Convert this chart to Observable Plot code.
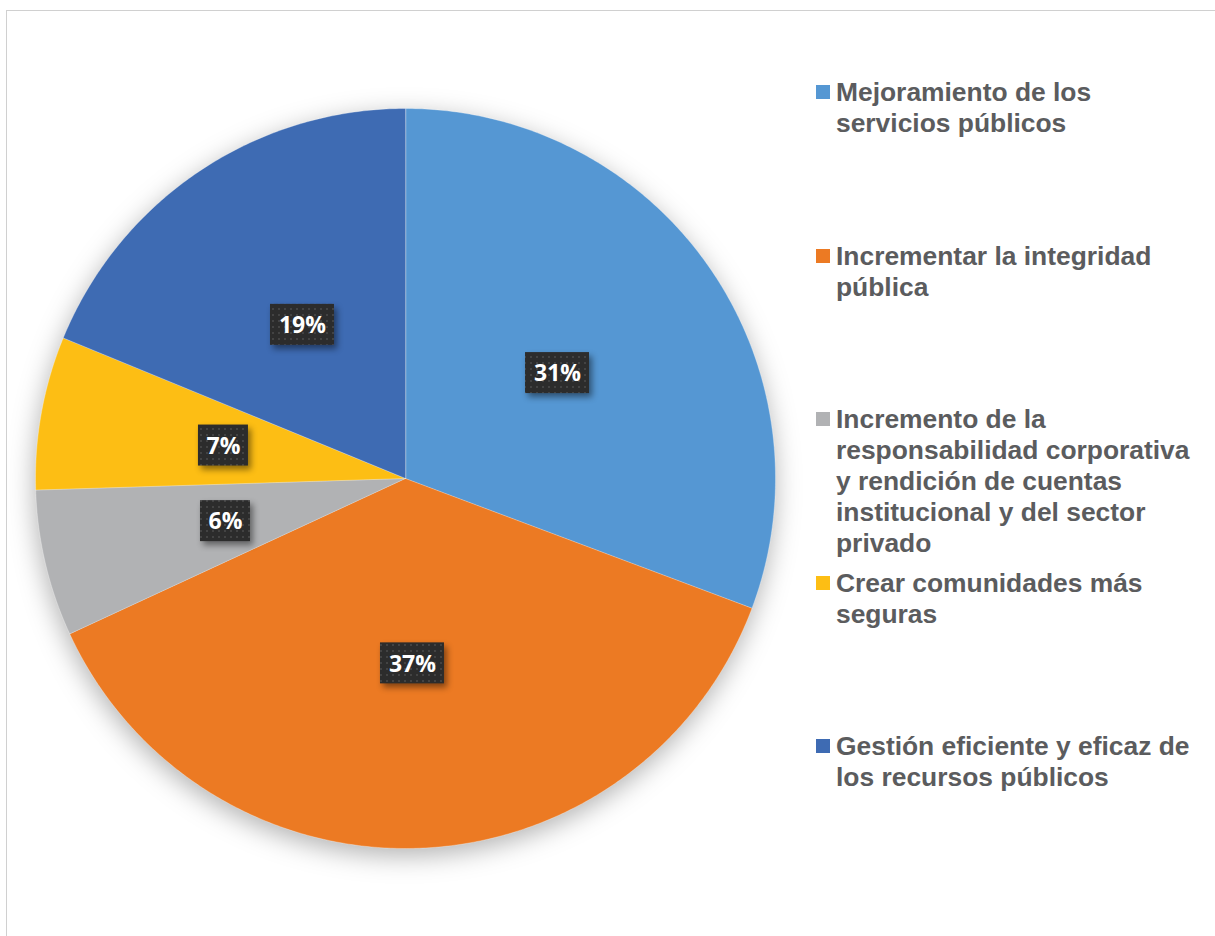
<!DOCTYPE html>
<html>
<head>
<meta charset="utf-8">
<script src="https://cdn.jsdelivr.net/npm/d3@7"></script>
<script src="https://cdn.jsdelivr.net/npm/@observablehq/plot@0.6"></script>
<style>
  html, body { margin: 0; padding: 0; background: #fff; }
  #wrap { position: relative; width: 1215px; height: 936px; overflow: hidden; }
  #frame { position: absolute; left: 6px; top: 10px; width: 1400px; height: 1200px;
           border-top: 1.5px solid #d0d0d0; border-left: 1.5px solid #d0d0d0; box-sizing: border-box; }
  #chart { position: absolute; left: 0; top: 0; }
  .leg { position: absolute; left: 836px; font-family: "Liberation Sans", Arial, sans-serif;
         font-weight: bold; font-size: 26.4px; line-height: 31px; color: #5b5c5e; white-space: nowrap; }
  .sw { position: absolute; left: 816px; width: 14px; height: 14px; }
</style>
</head>
<body>
<svg width="0" height="0" style="position:absolute">
  <defs>
    <pattern id="dots" width="6" height="6" patternUnits="userSpaceOnUse">
      <rect width="6" height="6" fill="#2c2c2c"></rect>
      <circle cx="3" cy="3" r="1" fill="#4a4a4a"></circle>
    </pattern>
  </defs>
</svg>
<div id="wrap">
  <div id="frame"></div>
  <div id="chart"></div>
</div>
<script>
const categories = [
  "Mejoramiento de los servicios públicos",
  "Incrementar la integridad pública",
  "Incremento de la responsabilidad corporativa y rendición de cuentas institucional y del sector privado",
  "Crear comunidades más seguras",
  "Gestión eficiente y eficaz de los recursos públicos"
];
const legendLines = [
  ["Mejoramiento de los", "servicios públicos"],
  ["Incrementar la integridad", "pública"],
  ["Incremento de la", "responsabilidad corporativa", "y rendición de cuentas", "institucional y del sector", "privado"],
  ["Crear comunidades más", "seguras"],
  ["Gestión eficiente y eficaz de", "los recursos públicos"]
];
// shares; labels show them rounded
const values = [30.7, 37.4, 6.4, 6.7, 18.8];
const colors = ["#5597D3", "#EC7A23", "#B1B2B4", "#FDBE14", "#3E6BB3"];

// pie geometry (unit radius), angles clockwise from 12 o'clock
const total = d3.sum(values);
const slices = [];
const labels = [];
let acc = 0;
values.forEach((v, i) => {
  const a0 = acc / total * 2 * Math.PI;
  acc += v;
  const a1 = acc / total * 2 * Math.PI;
  const steps = Math.max(4, Math.ceil((a1 - a0) / (Math.PI / 360)));
  slices.push({name: categories[i], x: 0, y: 0});
  for (let k = 0; k <= steps; k++) {
    const a = a0 + (a1 - a0) * k / steps;
    slices.push({name: categories[i], x: Math.sin(a), y: Math.cos(a)});
  }
  const m = (a0 + a1) / 2;
  const text = Math.round(v / total * 100) + "%";
  labels.push({name: categories[i], text, x: 0.5 * Math.sin(m), y: 0.5 * Math.cos(m), len: text.length});
});

const R = 370;      // pixels per unit radius
const cx = 405, cy = 478;
const W = 1215, H = 936;

const plot = Plot.plot({
  width: W,
  height: H,
  margin: 0,
  x: {domain: [-cx / R, (W - cx) / R], axis: null},
  y: {domain: [-(H - cy) / R, cy / R], axis: null},
  color: {domain: categories, range: colors},
  marks: [
    Plot.line(slices, {x: "x", y: "y", z: "name", fill: "name", stroke: "#ffffff", strokeWidth: 0.6, strokeOpacity: 0.5, curve: "linear-closed"}),
    Plot.rect(labels, {
      x1: d => d.x - (14 * d.len + 22) / 2 / R,
      x2: d => d.x + (14 * d.len + 22) / 2 / R,
      y1: d => d.y - 20.5 / R,
      y2: d => d.y + 20.5 / R,
      fill: "url(#dots)"
    }),
    Plot.text(labels, {x: "x", y: "y", text: "text", fill: "#ffffff", fontSize: 23, fontWeight: "bold",
      fontFamily: "'Open Sans', sans-serif", dy: 1})
  ]
});

const svg = d3.select(plot);
svg.style("overflow", "visible").style("background", "transparent");
svg.select('g[aria-label="line"]').style("filter", "drop-shadow(-1px 7px 13px rgba(0,0,0,0.3))");
svg.select('g[aria-label="rect"]').style("filter", "drop-shadow(3px 4px 3px rgba(0,0,0,0.45))");
document.getElementById("chart").appendChild(plot);

// legend (right side)
const wrap = document.getElementById("wrap");
legendLines.forEach((lines, i) => {
  const capTop = 83 + i * 163.5;
  const sw = document.createElement("div");
  sw.className = "sw";
  sw.style.top = (capTop + 2) + "px";
  sw.style.background = colors[i];
  wrap.appendChild(sw);
  const t = document.createElement("div");
  t.className = "leg";
  t.style.top = (capTop - 6) + "px";
  t.innerHTML = lines.join("<br>");
  wrap.appendChild(t);
});
</script>
</body>
</html>
